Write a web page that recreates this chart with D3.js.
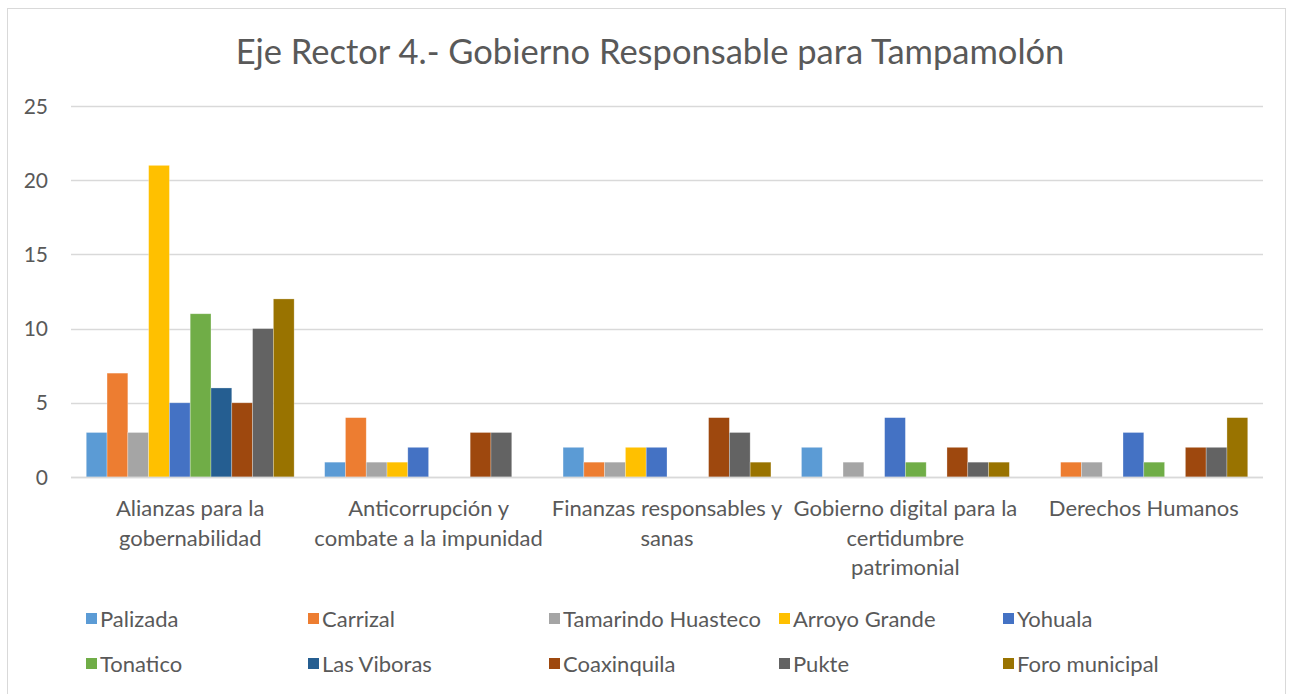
<!DOCTYPE html>
<html>
<head>
<meta charset="utf-8">
<script src="https://cdn.jsdelivr.net/npm/d3@7"></script>
<style>
  body { margin: 0; background: #fff; }
  text { font-family: Lato, "Open Sans", sans-serif; fill: #595959; }
</style>
</head>
<body>
<svg id="chart" width="1293" height="694"></svg>
<script>
// categories (with manual line breaks like the original)
const categories = [
  ["Alianzas para la", "gobernabilidad"],
  ["Anticorrupción y", "combate a la impunidad"],
  ["Finanzas responsables y", "sanas"],
  ["Gobierno digital para la", "certidumbre", "patrimonial"],
  ["Derechos Humanos"]
];
const seriesNames = ["Palizada", "Carrizal", "Tamarindo Huasteco", "Arroyo Grande", "Yohuala",
                     "Tonatico", "Las Viboras", "Coaxinquila", "Pukte", "Foro municipal"];
const seriesColors = ["#5B9BD5", "#ED7D31", "#A5A5A5", "#FFC000", "#4472C4",
                      "#70AD47", "#255E91", "#9E480E", "#636363", "#997300"];
// one array per series, values per category
const palizada   = [3, 1, 2, 2, 0];
const carrizal   = [7, 4, 1, 0, 1];
const tamarindo  = [3, 1, 1, 1, 1];
const arroyo     = [21, 1, 2, 0, 0];
const yohuala    = [5, 2, 2, 4, 3];
const tonatico   = [11, 0, 0, 1, 1];
const viboras    = [6, 0, 0, 0, 0];
const coaxinquila = [5, 3, 4, 2, 2];
const pukte      = [10, 3, 3, 1, 2];
const foro       = [12, 0, 1, 1, 4];
const yTicks = [0, 5, 10, 15, 20, 25];

const seriesValues = [palizada, carrizal, tamarindo, arroyo, yohuala, tonatico, viboras, coaxinquila, pukte, foro];

let svg = d3.select("#chart");
let margin = {left: 71, top: 106, right: 30, bottom: 217};
let width = +svg.attr("width") - margin.left - margin.right;
let height = +svg.attr("height") - margin.top - margin.bottom;

// chart border
svg.append("rect")
  .attr("x", 7.5).attr("y", 8.5)
  .attr("width", 1278).attr("height", 700)
  .attr("fill", "none").attr("stroke", "#d9d9d9");

svg.append("text")
  .attr("x", 650).attr("y", 64)
  .attr("text-anchor", "middle")
  .style("font-size", "34.5px")
  .text("Eje Rector 4.- Gobierno Responsable para Tampamolón");

let g = svg.append("g").attr("transform", `translate(${margin.left}, ${margin.top})`);

let x0 = d3.scaleBand().domain(d3.range(categories.length)).range([0, width])
  .paddingInner(0.128).paddingOuter(0.064);
let x1 = d3.scaleBand().domain(d3.range(seriesNames.length)).range([0, x0.bandwidth()]);
let y = d3.scaleLinear().domain([0, 25]).range([height, 0]);

// gridlines
g.append("g")
  .selectAll("line")
  .data(yTicks)
  .enter()
  .append("line")
  .attr("x1", 0).attr("x2", width)
  .attr("y1", d => Math.round(y(d)) + 0.5).attr("y2", d => Math.round(y(d)) + 0.5)
  .attr("stroke", "#d9d9d9").attr("stroke-width", 1.3);

// y labels
g.append("g")
  .selectAll("text")
  .data(yTicks)
  .enter()
  .append("text")
  .attr("x", -23).attr("y", d => y(d) + 7.5)
  .attr("text-anchor", "end")
  .style("font-size", "21px")
  .text(d => d);

// bars
let groups = g.selectAll(".grp")
  .data(categories)
  .enter()
  .append("g")
  .attr("class", "grp")
  .attr("transform", (d, i) => `translate(${x0(i)}, 0)`);

groups.selectAll("rect")
  .data((d, i) => seriesValues.map((vals, s) => ({s: s, v: vals[i]})))
  .enter()
  .append("rect")
  .attr("x", d => x1(d.s))
  .attr("y", d => y(d.v))
  .attr("width", x1.bandwidth())
  .attr("height", d => height - y(d.v))
  .attr("fill", d => seriesColors[d.s])
  .attr("stroke", "#fff").attr("stroke-opacity", 0.4).attr("stroke-width", 0.7)
  .attr("display", d => d.v === 0 ? "none" : null);

// baseline
g.append("line")
  .attr("x1", 0).attr("x2", width)
  .attr("y1", height + 0.5).attr("y2", height + 0.5)
  .attr("stroke", "#d9d9d9").attr("stroke-width", 1.5);

// category labels
groups.append("text")
  .attr("text-anchor", "middle")
  .style("font-size", "22px")
  .selectAll("tspan")
  .data(d => d)
  .enter()
  .append("tspan")
  .attr("x", x0.bandwidth() / 2)
  .attr("y", (d, i) => height + 39 + i * 29.5)
  .text(d => d);

// legend
const legendX = [86, 308, 549, 779, 1003];
const legendY = [619, 664];
let legend = svg.append("g").selectAll("g")
  .data(seriesNames)
  .enter()
  .append("g")
  .attr("transform", (d, i) => `translate(${legendX[i % 5]}, ${legendY[Math.floor(i / 5)]})`);
legend.append("rect")
  .attr("x", 0).attr("y", -6)
  .attr("width", 11).attr("height", 11)
  .attr("fill", (d, i) => seriesColors[i]);
legend.append("text")
  .attr("x", 14).attr("y", 8)
  .style("font-size", "22px")
  .text(d => d);
</script>
</body>
</html>
